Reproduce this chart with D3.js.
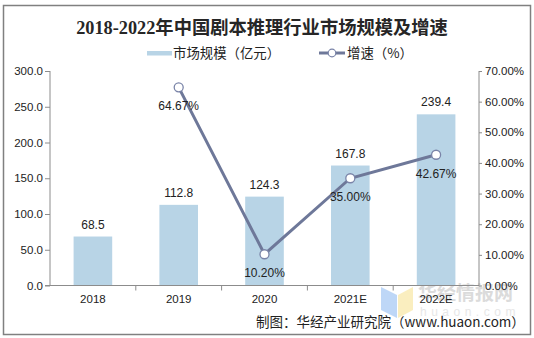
<!DOCTYPE html>
<html><head><meta charset="utf-8">
<script src="https://cdn.jsdelivr.net/npm/d3@7/dist/d3.min.js"></script>
<style>
html,body{margin:0;padding:0;background:#fff;}
svg{display:block;}
</style></head>
<body>
<script>
const categories = ["2018","2019","2020","2021E","2022E"];
const marketSize = [68.5,112.8,124.3,167.8,239.4];
const growthRate = [null,64.67,10.20,35.00,42.67];
const leftTicks = [0,50,100,150,200,250,300];
const rightTicks = [0,10,20,30,40,50,60,70];
const titleText = "2018-2022年中国剧本推理行业市场规模及增速";
const legendBar = "市场规模（亿元）";
const legendLine = "增速（%）";
const sourceText = "制图：华经产业研究院（www.huaon.com）";

const W = 534, H = 338;
const svg = d3.select("body").append("svg").attr("width", W).attr("height", H);

// outer border
svg.append("rect").attr("x",3.5).attr("y",5.5).attr("width",527).attr("height",329)
  .attr("fill","#fff").attr("stroke","#808080").attr("stroke-width",1.5);

const plot = {left:50, right:479, top:71, bottom:285.5};
const x = d3.scaleBand().domain(categories).range([plot.left, plot.right]).paddingInner(0.55).paddingOuter(0.275);
const xb = d3.scaleBand().domain(categories).range([plot.left, plot.right]);
const yL = d3.scaleLinear().domain([0,300]).range([plot.bottom, plot.top]);
const yR = d3.scaleLinear().domain([0,70]).range([plot.bottom, plot.top]);

const tickFont = "'Liberation Sans', Arial, sans-serif";
const cjk = "'Noto Sans CJK SC', sans-serif";

// watermark
const wm = svg.append("g").attr("opacity",0.5);
wm.append("path").attr("d","M381,287 L397,295 L397,318 L381,310 Z").attr("fill","#7fb0f0");
wm.append("path").attr("d","M398,295 L413,287 L413,310 L398,318 Z").attr("fill","#f7df80");
wm.append("text").attr("x",418).attr("y",300).attr("font-family",cjk).attr("font-weight","bold")
  .attr("font-size",19).attr("fill","#b8b8b8").text("华经情报网");
wm.append("text").attr("x",420).attr("y",316).attr("font-family",tickFont)
  .attr("font-size",12).attr("letter-spacing","4.5px").attr("fill","#cfcfcf").text("huaon.com");

// bars
svg.append("g").selectAll("rect").data(categories).join("rect")
  .attr("x", d => x(d)).attr("width", x.bandwidth())
  .attr("y", (d,i) => yL(marketSize[i])).attr("height", (d,i) => yL(0) - yL(marketSize[i]))
  .attr("fill", "#b8d4e6");

// bar labels
svg.append("g").selectAll("text").data(categories).join("text")
  .attr("x", d => x(d) + x.bandwidth()/2).attr("y", (d,i) => yL(marketSize[i]) - 8)
  .attr("text-anchor","middle").attr("font-family",tickFont).attr("font-size",12).attr("fill","#222")
  .text((d,i) => marketSize[i].toFixed(1));

// axes
const axisColor = "#8c8c8c";
const gL = svg.append("g").attr("transform",`translate(${plot.left},0)`)
  .call(d3.axisLeft(yL).tickValues(leftTicks).tickFormat(d3.format(".1f")).tickSize(5).tickPadding(3));
const gR = svg.append("g").attr("transform",`translate(${plot.right},0)`)
  .call(d3.axisRight(yR).tickValues(rightTicks).tickFormat(d => d.toFixed(2) + "%").tickSize(3).tickPadding(3));
const gX = svg.append("g").attr("transform",`translate(0,${plot.bottom})`)
  .call(d3.axisBottom(xb).tickSize(0).tickPadding(9));
// category separator ticks
svg.append("g").selectAll("line").data(categories.slice(1)).join("line")
  .attr("x1", d => xb(d)).attr("x2", d => xb(d)).attr("y1", plot.bottom).attr("y2", plot.bottom + 5)
  .attr("stroke", axisColor);
[gL,gR,gX].forEach(g => {
  g.selectAll("path.domain").attr("stroke",axisColor).attr("stroke-width",1);
  g.selectAll(".tick line").attr("stroke",axisColor);
  g.selectAll("text").attr("font-family",tickFont).attr("font-size",11.5).attr("fill","#222");
});
gL.select("path.domain").attr("d", `M0,${plot.top}V${plot.bottom}`);
gR.select("path.domain").attr("d", `M0,${plot.top}V${plot.bottom}`);
gX.select("path.domain").attr("d", `M${plot.left-5},0H${plot.right}`);
gL.selectAll("text").attr("x",-7);

// line
const pts = categories.map((c,i) => ({c, v: growthRate[i]})).filter(d => d.v !== null);
const cx = d => xb(d.c) + xb.bandwidth()/2;
svg.append("path").datum(pts)
  .attr("d", d3.line().x(cx).y(d => yR(d.v)))
  .attr("fill","none").attr("stroke","#6e7899").attr("stroke-width",3);
svg.append("g").selectAll("circle").data(pts).join("circle")
  .attr("cx", cx).attr("cy", d => yR(d.v)).attr("r",4.5)
  .attr("fill","#fff").attr("stroke","#7a84a8").attr("stroke-width",1.3);
svg.append("g").selectAll("text").data(pts).join("text")
  .attr("x", cx).attr("y", d => yR(d.v) + 23)
  .attr("text-anchor","middle").attr("font-family",tickFont).attr("font-size",12).attr("fill","#222")
  .text(d => d.v.toFixed(2) + "%");

// title
svg.append("text").attr("x",262).attr("y",34).attr("text-anchor","middle")
  .attr("font-family","'Liberation Serif', 'Noto Sans CJK SC', serif").attr("font-weight","bold")
  .attr("font-size",18.3).attr("fill","#262626").text(titleText);

// legend
const lg = svg.append("g");
lg.append("rect").attr("x",147).attr("y",51).attr("width",25).attr("height",4.5).attr("fill","#b8d4e6");
lg.append("text").attr("x",173).attr("y",58).attr("font-family",cjk).attr("font-size",13.4).attr("fill","#222").text(legendBar);
lg.append("line").attr("x1",319).attr("x2",345).attr("y1",53).attr("y2",53).attr("stroke","#6e7899").attr("stroke-width",3);
lg.append("circle").attr("cx",332).attr("cy",53).attr("r",3.8).attr("fill","#fff").attr("stroke","#7a84a8").attr("stroke-width",1.2);
lg.append("text").attr("x",347).attr("y",58).attr("font-family",cjk).attr("font-size",13.4).attr("fill","#222").text(legendLine);

// source
svg.append("text").attr("x",256).attr("y",327).attr("font-family",cjk).attr("font-size",13.5).attr("fill","#222").text(sourceText);
</script>
</body></html>
